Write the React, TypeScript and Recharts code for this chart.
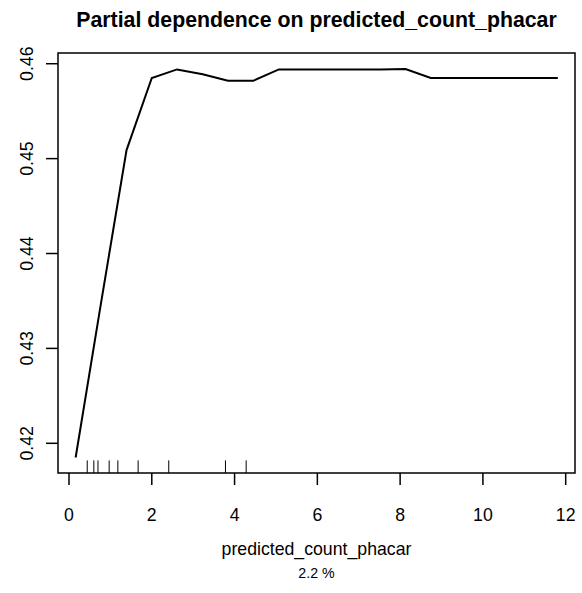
import React from "react";
import {
  ComposedChart,
  Line,
  XAxis,
  YAxis,
  ReferenceArea,
  ReferenceLine
} from "recharts";

// partial dependence grid (x) and predicted values (y)
const gridX = [
  0.16, 0.77, 1.39, 2.0, 2.61, 3.23, 3.84, 4.45, 5.07, 5.68,
  6.29, 6.91, 7.52, 8.13, 8.74, 9.36, 9.97, 10.58, 11.2, 11.81
];
const pdValues = [
  0.4185, 0.4347, 0.4509, 0.4585, 0.4594, 0.4589, 0.4582, 0.4582, 0.4594, 0.4594,
  0.4594, 0.4594, 0.4594, 0.45945, 0.4585, 0.4585, 0.4585, 0.4585, 0.4585, 0.4585
];
// rug of observed values (deciles)
const rugX = [0.44, 0.6, 0.7, 0.97, 1.18, 1.67, 2.41, 3.78, 4.28];

const xTicks = [0, 2, 4, 6, 8, 10, 12];
const yTicks = [0.42, 0.43, 0.44, 0.45, 0.46];

const data = gridX.map((x, i) => ({ x, y: pdValues[i] }));

const X_DOMAIN: [number, number] = [-0.266, 12.225];
const Y_DOMAIN: [number, number] = [0.41687, 0.46113];
const rugLen = (Y_DOMAIN[1] - Y_DOMAIN[0]) * 0.03;

const FONT = '"Liberation Sans", Arial, Helvetica, sans-serif';

const YTick = (props: any) => {
  const { y, payload } = props;
  return (
    <text
      x={33}
      y={y}
      transform={`rotate(-90 33 ${y})`}
      textAnchor="middle"
      fontSize={17.7}
      fill="#000"
      fontFamily={FONT}
    >
      {payload.value.toFixed(2)}
    </text>
  );
};

export default function App() {
  return (
    <div
      style={{
        position: "absolute",
        left: 0,
        top: 0,
        width: 582,
        height: 593,
        background: "#fff",
        fontFamily: FONT
      }}
    >
      <ComposedChart
        width={582}
        height={593}
        data={data}
        margin={{ top: 53, right: 7, bottom: 0, left: 0 }}
      >
        <XAxis
          dataKey="x"
          type="number"
          domain={X_DOMAIN}
          ticks={xTicks}
          allowDataOverflow
          height={120}
          axisLine={false}
          tickSize={12}
          tickMargin={23}
          tickLine={{ stroke: "#000", strokeWidth: 1.5 }}
          tick={{ fill: "#000", fontSize: 17.7, fontFamily: FONT }}
        />
        <YAxis
          type="number"
          domain={Y_DOMAIN}
          ticks={yTicks}
          allowDataOverflow
          width={58}
          axisLine={false}
          tickSize={12}
          tickLine={{ stroke: "#000", strokeWidth: 1.5 }}
          tick={<YTick />}
        />
        <ReferenceArea
          x1={X_DOMAIN[0]}
          x2={X_DOMAIN[1]}
          y1={Y_DOMAIN[0]}
          y2={Y_DOMAIN[1]}
          fill="none"
          stroke="#000"
          strokeWidth={1.5}
        />
        {rugX.map((v) => (
          <ReferenceLine
            key={v}
            segment={[
              { x: v, y: Y_DOMAIN[0] },
              { x: v, y: Y_DOMAIN[0] + rugLen }
            ]}
            stroke="#000"
            strokeWidth={1}
          />
        ))}
        <Line
          type="linear"
          dataKey="y"
          stroke="#000"
          strokeWidth={2}
          dot={false}
          activeDot={false}
          isAnimationActive={false}
        />
      </ComposedChart>
      <svg
        width={582}
        height={593}
        style={{ position: "absolute", left: 0, top: 0, pointerEvents: "none" }}
      >
        <text
          x={316.5}
          y={27}
          textAnchor="middle"
          fontSize={21.3}
          fontWeight="bold"
          fontFamily={FONT}
          fill="#000"
        >
          Partial dependence on predicted_count_phacar
        </text>
        <text
          x={316.5}
          y={555}
          textAnchor="middle"
          fontSize={17.7}
          fontFamily={FONT}
          fill="#000"
        >
          predicted_count_phacar
        </text>
        <text
          x={316.5}
          y={578}
          textAnchor="middle"
          fontSize={14.2}
          fontFamily={FONT}
          fill="#000"
        >
          2.2 %
        </text>
      </svg>
    </div>
  );
}
